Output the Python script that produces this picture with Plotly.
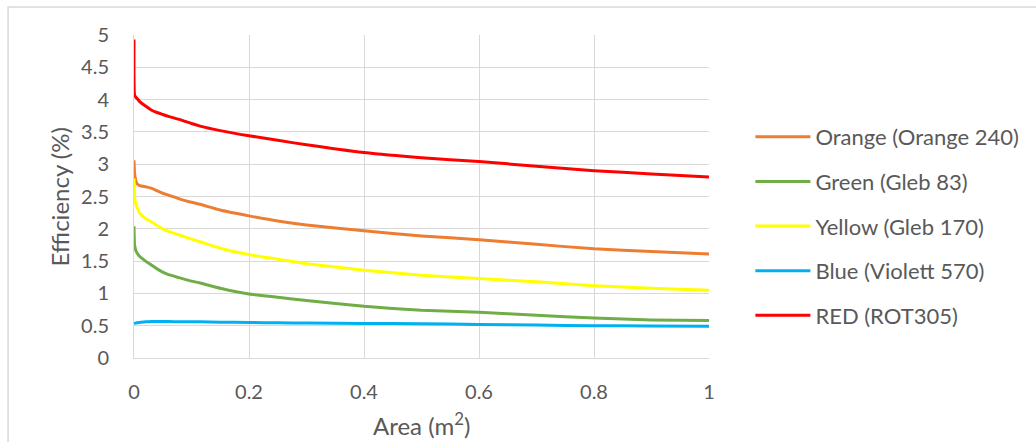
import plotly.graph_objects as go

# Area values (m^2) at which efficiency was sampled
area = [0, 0.001, 0.003, 0.005, 0.01, 0.02, 0.03, 0.04, 0.05, 0.06, 0.08, 0.1,
        0.115, 0.15, 0.2, 0.25, 0.3, 0.4, 0.5, 0.6, 0.7, 0.8, 0.9, 1.0]

# Efficiency (%) per dye
orange = [3.06, 2.86, 2.75, 2.70, 2.67, 2.65, 2.63, 2.59, 2.55, 2.52, 2.46, 2.41,
          2.38, 2.29, 2.20, 2.12, 2.06, 1.97, 1.89, 1.83, 1.76, 1.69, 1.65, 1.61]
green = [2.04, 1.75, 1.67, 1.63, 1.57, 1.50, 1.44, 1.38, 1.33, 1.29, 1.24, 1.19,
         1.16, 1.08, 0.99, 0.94, 0.89, 0.80, 0.74, 0.71, 0.66, 0.62, 0.59, 0.58]
yellow = [2.78, 2.50, 2.38, 2.34, 2.24, 2.16, 2.11, 2.05, 2.00, 1.96, 1.90, 1.84,
          1.80, 1.70, 1.60, 1.53, 1.46, 1.36, 1.28, 1.23, 1.18, 1.12, 1.08, 1.05]
blue = [0.53, 0.535, 0.54, 0.545, 0.55, 0.56, 0.565, 0.565, 0.565, 0.565, 0.56, 0.56,
        0.56, 0.555, 0.55, 0.545, 0.54, 0.535, 0.53, 0.52, 0.51, 0.50, 0.495, 0.49]
red = [4.93, 4.07, 4.04, 4.02, 3.97, 3.90, 3.84, 3.80, 3.77, 3.74, 3.69, 3.63,
       3.59, 3.52, 3.44, 3.37, 3.30, 3.18, 3.10, 3.04, 2.97, 2.90, 2.85, 2.80]

series = [
    ("Orange (Orange 240)", orange, "#ED7D31"),
    ("Green (Gleb 83)", green, "#70AD47"),
    ("Yellow (Gleb 170)", yellow, "#FFFF00"),
    ("Blue (Violett 570)", blue, "#00B0F0"),
    ("RED (ROT305)", red, "#FF0000"),
]

fig = go.Figure()
for name, vals, color in series:
    fig.add_trace(go.Scatter(
        x=area, y=vals, name=name, mode="lines", legendgroup=name,
        line=dict(color=color, width=3, shape="spline", smoothing=0.5),
    ))

FONT = "Lato"
TXT = "#595959"
GRID = "#D9D9D9"

fig.update_layout(
    width=1036, height=442,
    margin=dict(l=134, r=327, t=35, b=84),
    paper_bgcolor="white", plot_bgcolor="white",
    font=dict(family=FONT, color=TXT, size=20),
    legend=dict(
        x=1.072, xanchor="left", y=0.749, yanchor="top",
        font=dict(size=22, color=TXT), traceorder="grouped",
        tracegroupgap=13, itemwidth=55, bgcolor="rgba(0,0,0,0)",
    ),
    xaxis=dict(
        range=[0, 1], tickvals=[0, 0.2, 0.4, 0.6, 0.8, 1],
        ticktext=["0", "0.2", "0.4", "0.6", "0.8", "1"],
        showgrid=True, gridcolor=GRID, gridwidth=1,
        showline=True, linecolor=GRID, linewidth=1,
        zeroline=False, ticks="", ticklabelstandoff=16, automargin=False,
        tickfont=dict(size=20, color=TXT),
    ),
    yaxis=dict(
        range=[0, 5], tickvals=[0, 0.5, 1, 1.5, 2, 2.5, 3, 3.5, 4, 4.5, 5],
        ticktext=["0", "0.5", "1", "1.5", "2", "2.5", "3", "3.5", "4", "4.5", "5"],
        showgrid=True, gridcolor=GRID, gridwidth=1,
        showline=True, linecolor=GRID, linewidth=1,
        zeroline=False, ticks="", ticklabelstandoff=20, automargin=False,
        tickfont=dict(size=20, color=TXT),
    ),
)

# Axis titles
fig.add_annotation(text="Area (m<sup>2</sup>)", xref="paper", yref="paper",
                   x=0.5, y=-0.204, xanchor="center", yanchor="middle",
                   showarrow=False, font=dict(size=24, color=TXT))
fig.add_annotation(text="Efficiency (%)", xref="paper", yref="paper",
                   x=-0.1287, y=0.5, xanchor="center", yanchor="middle",
                   textangle=-90, showarrow=False, font=dict(size=24, color=TXT))

# Chart frame around the whole figure
fig.add_shape(type="rect", xref="paper", yref="paper",
              x0=-0.219, x1=1.58, y0=-0.4, y1=1.087,
              line=dict(color=GRID, width=1.5), fillcolor="rgba(0,0,0,0)", layer="below")

fig.write_html("out.html")
